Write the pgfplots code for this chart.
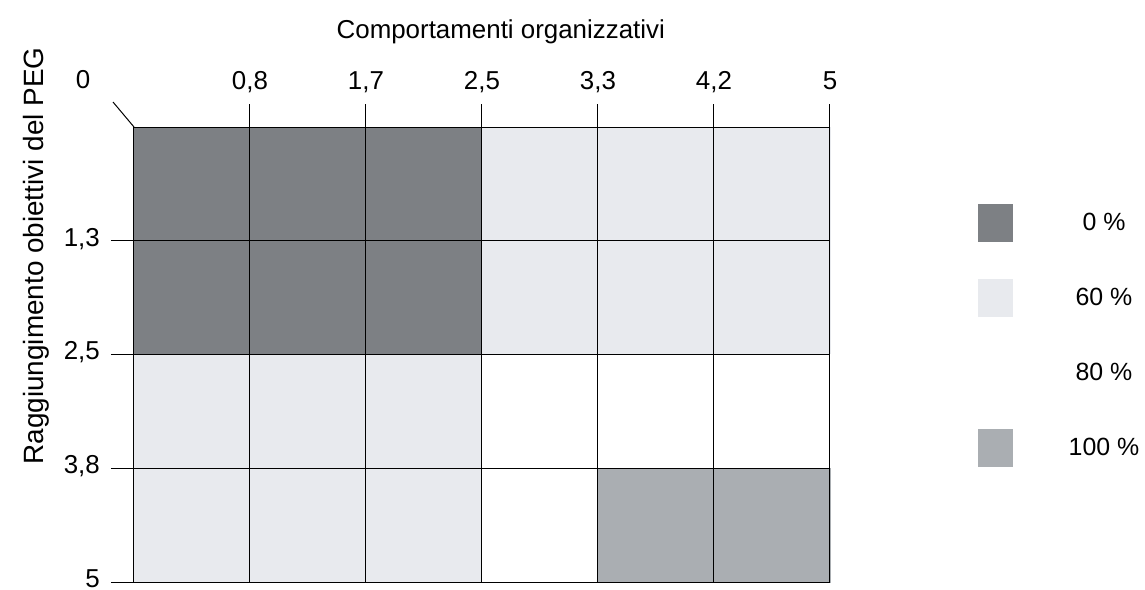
\documentclass[border=0pt]{standalone}
\usepackage{pgfplots}
\pgfplotsset{compat=1.18}
\usepackage{fontspec}
\setmainfont{Liberation Sans}
\definecolor{cdark}{RGB}{125,128,132}
\definecolor{clight}{RGB}{232,234,238}
\definecolor{cmed}{RGB}{170,174,178}
\begin{document}
\begin{tikzpicture}
\begin{axis}[
  scale only axis, width=696bp, height=455bp,
  xmin=0, xmax=6, ymin=0, ymax=4, y dir=reverse,
  clip=false, axis on top,
  font=\fontsize{26}{30}\selectfont,
  /pgf/number format/assume math mode=true,
  xtick={1,2,3,4,5,6}, xticklabels={{0,8},{1,7},{2,5},{3,3},{4,2},{5}},
  ytick={1,2,3,4}, yticklabels={{1,3},{2,5},{3,8},{\raisebox{3bp}{5}}},
  xtick pos=upper, xticklabel pos=upper, ytick pos=lower,
  tick align=outside, major tick length=23bp,
  tick style={black, line width=1bp},
  grid=major, grid style={black, line width=1bp},
  axis line style={black, line width=1bp},
  xticklabel style={inner sep=0pt, anchor=base, yshift=15bp},
  yticklabel style={inner sep=0pt, xshift=-11bp, yshift=2bp},
  xlabel={Comportamenti organizzativi},
  ylabel={Raggiungimento obiettivi del PEG},
  every axis x label/.style={at={(axis description cs:0.527,1.2100)}, anchor=center, font=\fontsize{26}{30}\selectfont},
  every axis y label/.style={at={(axis description cs:-0.1400,0.7165)}, anchor=center, rotate=90, font=\fontsize{28}{32}\selectfont},
  colormap={pct}{rgb255(0)=(125,128,132) rgb255(60)=(232,234,238) rgb255(80)=(255,255,255) rgb255(100)=(170,174,178)},
  point meta min=0, point meta max=100,
  legend style={at={(axis description cs:1.2126,0.8308)}, anchor=north west, draw=none, fill=none,
    inner sep=0pt, outer sep=0pt, column sep=51bp, row sep=37bp,
    font=\fontsize{25}{28}\selectfont,
    nodes={inner sep=0pt, anchor=center}},
  legend image code/.code={\fill[#1, draw=none] (0bp,-19bp) rectangle (35bp,19bp);},
]
\addplot[matrix plot*, mesh/cols=6, point meta=explicit, draw=none, forget plot] table[meta=p] {
x y p
0.5 0.5 0
1.5 0.5 0
2.5 0.5 0
3.5 0.5 60
4.5 0.5 60
5.5 0.5 60
0.5 1.5 0
1.5 1.5 0
2.5 1.5 0
3.5 1.5 60
4.5 1.5 60
5.5 1.5 60
0.5 2.5 60
1.5 2.5 60
2.5 2.5 60
3.5 2.5 80
4.5 2.5 80
5.5 2.5 80
0.5 3.5 60
1.5 3.5 60
2.5 3.5 60
3.5 3.5 80
4.5 3.5 100
5.5 3.5 100
};
\addlegendimage{fill=cdark, draw=none}
\addlegendentry{\makebox[80bp]{0 \%}}
\addlegendimage{fill=clight, draw=none}
\addlegendentry{\makebox[80bp]{60 \%}}
\addlegendimage{fill=white, draw=none}
\addlegendentry{\makebox[80bp]{80 \%}}
\addlegendimage{fill=cmed, draw=none}
\addlegendentry{\makebox[80bp]{100 \%}}
\node[inner sep=0pt, anchor=base] at (axis cs:-0.44,-0.335) {0};
\draw[black, line width=1bp] (axis cs:0,0) -- ++(-21bp,25bp);
\end{axis}
\pgfresetboundingbox
\path (-134bp,-8bp) rectangle (1011bp,582bp);
\end{tikzpicture}
\end{document}
